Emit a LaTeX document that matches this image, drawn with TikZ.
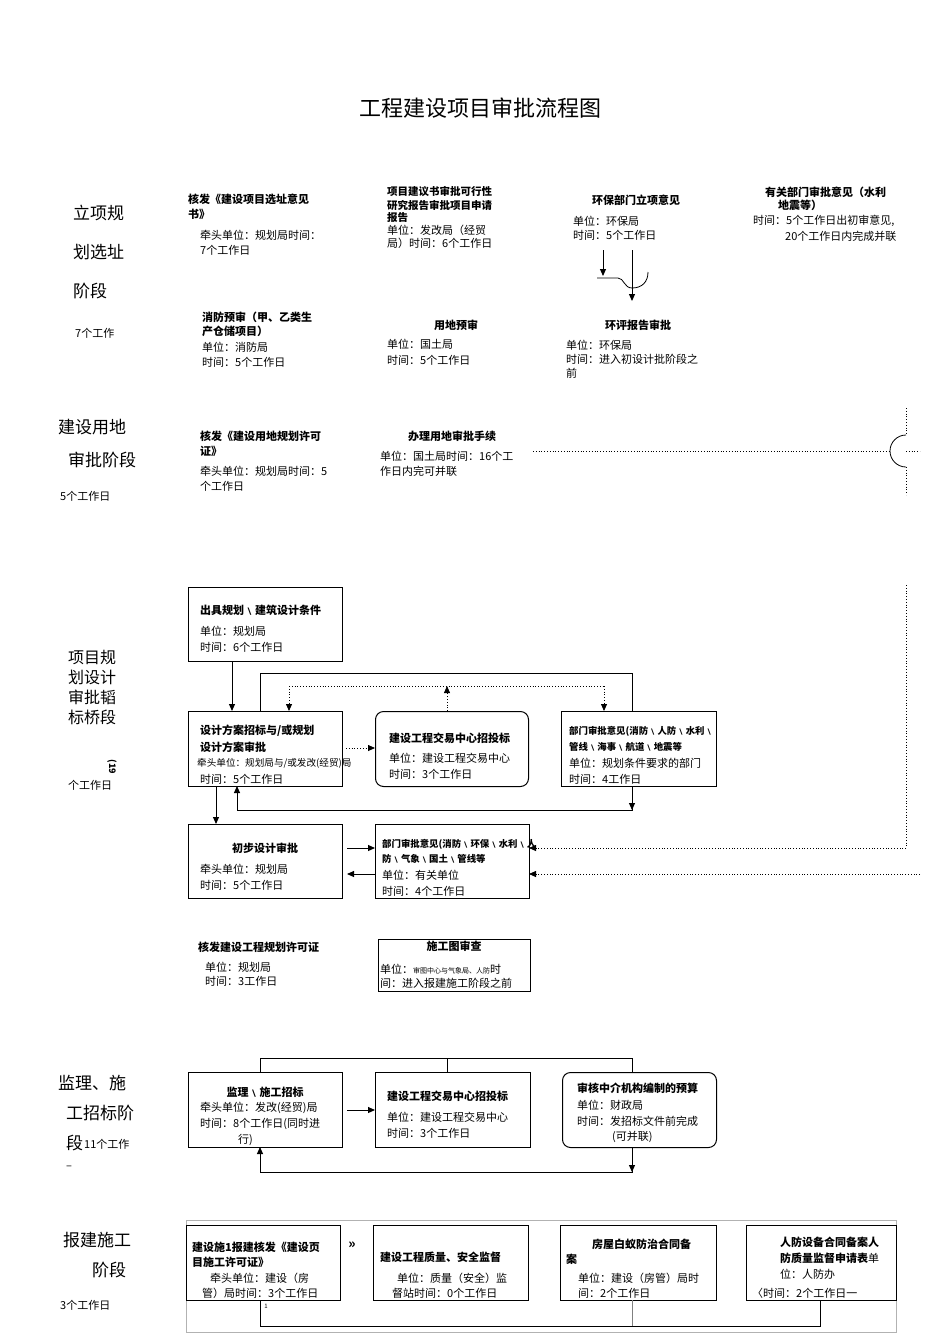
\documentclass[tikz,border=0pt]{standalone}
\usepackage{fontspec}
\setmainfont{Noto Sans CJK SC}
\usetikzlibrary{arrows.meta}
\tikzset{
 t/.style={anchor=west,inner sep=0pt,font=\fontsize{11}{12}\selectfont},
 tb/.style={anchor=west,inner sep=0pt,font=\fontsize{11}{12}\selectfont\bfseries},
 tc/.style={anchor=center,inner sep=0pt,font=\fontsize{11}{12}\selectfont\bfseries},
 tn/.style={anchor=west,inner sep=0pt,font=\fontsize{9.4}{11}\selectfont\bfseries},
 stage/.style={anchor=west,inner sep=0pt,font=\fontsize{17}{20}\selectfont},
 bx/.style={draw,line width=1pt},
 rbx/.style={draw,line width=1pt,rounded corners=8pt},
 ln/.style={line width=1pt},
 ar/.style={line width=1pt,-{Triangle[length=7pt,width=6pt]}},
 dt/.style={dotted,line width=0.8pt},
 dar/.style={dotted,line width=0.8pt,-{Triangle[length=7pt,width=6pt]}},
}
\begin{document}
\begin{tikzpicture}[x=1pt,y=-1pt]
\useasboundingbox (0,0) rectangle (950,1344);
\node[inner sep=0pt,font=\fontsize{22}{24}\selectfont] (title) at (480,108) {工程建设项目审批流程图};
\node[stage] (s1a) at (73,213) {立项规};
\node[stage] (s1b) at (73,252) {划选址};
\node[stage] (s1c) at (73,291) {阶段};
\node[t] (s1d) at (75,333) {7个工作};
\node[stage] (s2a) at (58,427) {建设用地};
\node[stage] (s2b) at (68,460) {审批阶段};
\node[t] (s2d) at (60,496) {5个工作日};
\node[stage,align=left,font=\fontsize{16}{20}\selectfont,anchor=north west] (s3a) at (68,650) {项目规\\划设计\\审批韬\\标桥段};
\node[inner sep=0pt,rotate=-90,font=\fontsize{9}{10}\selectfont\bfseries] (s3b) at (112,767) {(19};
\node[t] (s3c) at (68,785) {个工作日};
\node[stage] (s4a) at (58,1083) {监理、施};
\node[stage] (s4b) at (66,1113) {工招标阶};
\node[stage] (s4c) at (66,1143) {段};
\node[t] (s4d) at (84,1144) {11个工作};
\node[t] (s4e) at (66,1168) {–};
\node[stage] (s5a) at (63,1240) {报建施工};
\node[stage] (s5b) at (92,1270) {阶段};
\node[t] (s5c) at (60,1305) {3个工作日};
\node[tb] (a1) at (188,199) {核发《建设项目选址意见};
\node[tb] (a2) at (188,214) {书》};
\node[t] (a3) at (200,235) {牵头单位：规划局时间：};
\node[t] (a4) at (200,250) {7个工作日};
\node[tb,font=\fontsize{10.5}{11}\selectfont\bfseries] (b1) at (387,192) {项目建议书审批可行性};
\node[tb,font=\fontsize{10.5}{11}\selectfont\bfseries] (b2) at (387,205) {研究报告审批项目申请};
\node[tb,font=\fontsize{10.5}{11}\selectfont\bfseries] (b3) at (387,218) {报告};
\node[t] (b4) at (387,230) {单位：发改局（经贸};
\node[t] (b5) at (387,243) {局）时间：6个工作日};
\node[tc] (c1) at (636,200) {环保部门立项意见};
\node[t] (c2) at (573,221) {单位：环保局};
\node[t] (c3) at (573,235) {时间：5个工作日};
\node[tb] (d1) at (765,192) {有关部门审批意见（水利};
\node[tb] (d2) at (778,205) {地震等）};
\node[t] (d3) at (753,221) {时间：5个工作日出初审意见,};
\node[t] (d4) at (785,236) {20个工作日内完成并联};
\coordinate (p1) at (603,250); \coordinate (p2) at (603,276);
\coordinate (q1) at (632,250); \coordinate (q2) at (632,301);
\draw[ar] (p1) -- (p2);
\draw[ar] (q1) -- (q2);
\draw[line width=0.8pt] (597,278) -- (618,278) .. controls (624,278) and (624,288) .. (632,288) .. controls (642,288) and (648,282) .. (648,272);
\node[tb] (e1) at (202,317) {消防预审（甲、乙类生};
\node[tb] (e2) at (202,331) {产仓储项目）};
\node[t] (e3) at (202,347) {单位：消防局};
\node[t] (e4) at (202,362) {时间：5个工作日};
\node[tc] (f1) at (456,325) {用地预审};
\node[t] (f2) at (387,344) {单位：国土局};
\node[t] (f3) at (387,360) {时间：5个工作日};
\node[tc] (g1) at (638,325) {环评报告审批};
\node[t] (g2) at (566,345) {单位：环保局};
\node[t] (g3) at (566,359) {时间：进入初设计批阶段之};
\node[t] (g4) at (566,373) {前};
\node[tb] (h1) at (200,436) {核发《建设用地规划许可};
\node[tb] (h2) at (200,451) {证》};
\node[t] (h3) at (200,471) {牵头单位：规划局时间：5};
\node[t] (h4) at (200,486) {个工作日};
\node[tc] (i1) at (452,436) {办理用地审批手续};
\node[t] (i2) at (380,456) {单位：国土局时间：16个工};
\node[t] (i3) at (380,471) {作日内完可并联};
\coordinate (j1) at (533,451); \coordinate (j2) at (890,451);
\draw[dt] (j1) -- (j2);
\draw[dt] (906,408) -- (906,435);
\draw[dt] (906,467) -- (906,495);
\draw[line width=0.8pt] (906,467) arc (90:270:16);
\draw[dt] (906,451) -- (920,451);
% stage 3 boxes
\node[bx,minimum width=154pt,minimum height=74pt,anchor=north west] (B1) at (188,587) {};
\node[tb] at (200,610) {出具规划﹨建筑设计条件};
\node[t] at (200,631) {单位：规划局};
\node[t] at (200,647) {时间：6个工作日};
\node[bx,minimum width=154pt,minimum height=75pt,anchor=north west] (B2) at (188,711) {};
\node[tb] at (200,731) {设计方案招标与/或规划};
\node[tb] at (200,747) {设计方案审批};
\node[t,font=\fontsize{9.6}{11}\selectfont] at (197,763) {牵头单位：规划局与/或发改(经贸)局};
\node[t] at (200,779) {时间：5个工作日};
\node[rbx,minimum width=153pt,minimum height=75pt,anchor=north west] (B3) at (375,711) {};
\node[tb] at (389,738) {建设工程交易中心招投标};
\node[t] at (389,758) {单位：建设工程交易中心};
\node[t] at (389,774) {时间：3个工作日};
\node[bx,minimum width=155pt,minimum height=75pt,anchor=north west] (B4) at (561,711) {};
\node[tn] at (569,731) {部门审批意见(消防﹨人防﹨水利﹨};
\node[tn] at (569,747) {管线﹨海事﹨航道﹨地震等};
\node[t] at (569,763) {单位：规划条件要求的部门};
\node[t] at (569,779) {时间：4工作日};
\node[bx,minimum width=154pt,minimum height=74pt,anchor=north west] (B5) at (188,824) {};
\node[tc] at (265,848) {初步设计审批};
\node[t] at (200,869) {牵头单位：规划局};
\node[t] at (200,885) {时间：5个工作日};
\node[bx,minimum width=154pt,minimum height=74pt,anchor=north west] (B6) at (375,824) {};
\node[tn] at (382,844) {部门审批意见(消防﹨环保﹨水利﹨人};
\node[tn] at (382,859) {防﹨气象﹨国土﹨管线等};
\node[t] at (382,875) {单位：有关单位};
\node[t] at (382,891) {时间：4个工作日};
% connectors
\draw[ar] (232,661) -- (232,711);
\draw[ln] (260,711) -- (260,673) -- (632,673) -- (632,711);
\draw[dt] (289,686) -- (604,686);
\draw[dar] (289,686) -- (289,711);
\draw[dar] (604,686) -- (604,711);
\draw[dar] (447,711) -- (447,686);
\draw[dar] (346,748) -- (375,748);
\draw[ln] (632,786) -- (632,810) -- (237,810);
\draw[ar] (632,790) -- (632,810);
\draw[ar] (237,810) -- (237,786);
\draw[ar] (216,786) -- (216,824);
\draw[ar] (347,848) -- (375,848);
\draw[ar] (375,874) -- (347,874);
\coordinate (r1) at (906,585); \coordinate (r2) at (920,874);
\draw[dt] (r1) -- (906,848);
\draw[dar] (906,848) -- (529,848);
\draw[dar] (r2) -- (529,874);
% permit
\node[tb] (k1) at (198,947) {核发建设工程规划许可证};
\node[t] (k2) at (205,967) {单位：规划局};
\node[t] (k3) at (205,981) {时间：3工作日};
\node[draw,line width=0.6pt,minimum width=152pt,minimum height=52pt,anchor=north west] (K) at (378,939) {};
\node[tc] at (454,946) {施工图审查};
\node[t] at (380,969) {单位：{\fontsize{7}{8}\selectfont 审图中心与气象局、人防}时};
\node[t] at (380,983) {间：进入报建施工阶段之前};
% stage 4
\node[bx,minimum width=154pt,minimum height=75pt,anchor=north west] (T1) at (188,1072) {};
\node[tc] at (265,1092) {监理﹨施工招标};
\node[t] at (200,1108) {牵头单位：发改(经贸)局};
\node[t] at (200,1124) {时间：8个工作日(同时进};
\node[t] at (238,1140) {行)};
\node[bx,minimum width=155pt,minimum height=75pt,anchor=north west] (T2) at (375,1072) {};
\node[tb] at (387,1096) {建设工程交易中心招投标};
\node[t] at (387,1117) {单位：建设工程交易中心};
\node[t] at (387,1133) {时间：3个工作日};
\node[rbx,minimum width=154pt,minimum height=75pt,anchor=north west] (T3) at (562,1072) {};
\node[tb] at (577,1088) {审核中介机构编制的预算};
\node[t] at (577,1105) {单位：财政局};
\node[t] at (577,1121) {时间：发招标文件前完成};
\node[t] at (612,1137) {(可并联)};
\draw[ln] (260,1072) -- (260,1058) -- (632,1058) -- (632,1072);
\draw[ln] (447,1058) -- (447,1072);
\draw[ar] (347,1110) -- (375,1110);
\draw[ln] (632,1147) -- (632,1172) -- (260,1172);
\draw[ar] (632,1152) -- (632,1172);
\draw[ar] (260,1172) -- (260,1147);
% stage 5
\draw[gray!60,line width=0.6pt] (186,1220) rectangle (896,1332);
\node[draw,line width=0.6pt,minimum width=154pt,minimum height=75pt,anchor=north west] (C1) at (186,1225) {};
\node[draw,line width=0.6pt,minimum width=155pt,minimum height=75pt,anchor=north west] (C2) at (373,1225) {};
\node[draw,line width=0.6pt,minimum width=156pt,minimum height=75pt,anchor=north west] (C3) at (560,1225) {};
\node[draw,line width=0.6pt,minimum width=150pt,minimum height=75pt,anchor=north west] (C4) at (746,1225) {};
\node[tb] at (192,1247) {建设施1报建核发《建设页};
\node[tb] at (192,1262) {目施工许可证》};
\node[t] at (210,1278) {牵头单位：建设（房};
\node[t] at (202,1293) {管）局时间：3个工作日};
\node[inner sep=0pt,font=\fontsize{13}{14}\selectfont\bfseries] (mm) at (352,1245) {»};
\node[tb] at (380,1257) {建设工程质量、安全监督};
\node[t] at (397,1278) {单位：质量（安全）监};
\node[t] at (392,1293) {督站时间：0个工作日};
\node[tb] at (592,1244) {房屋白蚁防治合同备};
\node[tb] at (566,1259) {案};
\node[t] at (578,1278) {单位：建设（房管）局时};
\node[t] at (578,1293) {间：2个工作日};
\node[tb] at (780,1242) {人防设备合同备案人};
\node[tb] at (780,1258) {防质量监督申请表{\mdseries 单}};
\node[t] at (780,1274) {位：人防办};
\node[t] at (752,1293) {〈时间：2个工作日一};
\node[inner sep=0pt,font=\fontsize{6}{7}\selectfont] (one) at (266,1306) {1};
\draw[line width=0.6pt] (260,1300) -- (260,1326) -- (820,1326) -- (820,1300);
\draw[gray,line width=0.6pt] (632,1326) -- (632,1300);
\end{tikzpicture}
\end{document}
